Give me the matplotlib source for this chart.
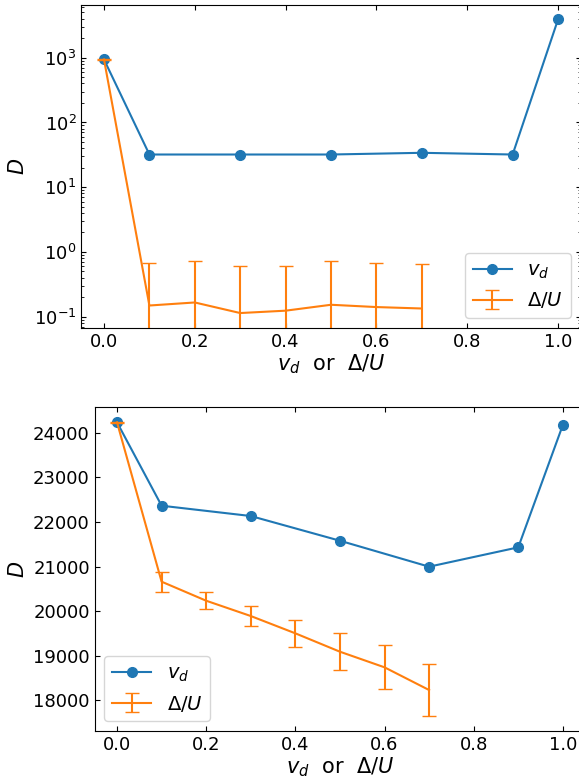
import numpy as np
import matplotlib
matplotlib.use("Agg")
import matplotlib.pyplot as plt

# x positions
x_vd = [0.0, 0.1, 0.3, 0.5, 0.7, 0.9, 1.0]
x_du = [0.0, 0.1, 0.2, 0.3, 0.4, 0.5, 0.6, 0.7]

# upper panel (log scale)
D_vd_top = [940, 32, 32, 32, 34, 32, 3900]
D_du_top = [940, 0.149, 0.166, 0.114, 0.124, 0.153, 0.141, 0.134]
err_du_top = [15, 0.53, 0.55, 0.49, 0.48, 0.56, 0.53, 0.51]

# lower panel (linear scale)
D_vd_bot = [24233, 22363, 22132, 21578, 20996, 21430, 24173]
D_du_bot = [24233, 20660, 20233, 19890, 19502, 19090, 18740, 18231]
err_du_bot = [10, 225, 190, 230, 310, 410, 490, 575]

fig = plt.figure(figsize=(5.79, 7.8), dpi=100)
ax1 = fig.add_axes([0.1404, 0.5795, 0.8626, 0.414])
ax2 = fig.add_axes([0.1636, 0.0628, 0.847, 0.4154])

for ax, yv, yd, ed in [(ax1, D_vd_top, D_du_top, err_du_top),
                       (ax2, D_vd_bot, D_du_bot, err_du_bot)]:
    ax.plot(x_vd, yv, '-o', color='C0', lw=1.5, ms=7, label=r'$v_d$')
    ax.errorbar(x_du, yd, yerr=ed, color='C1', lw=1.5, capsize=5,
                label=r'$\Delta/U$')
    ax.set_xlim(-0.05, 1.05)
    ax.set_xticks([0.0, 0.2, 0.4, 0.6, 0.8, 1.0])
    ax.set_xlabel(r'$v_d$  or  $\Delta/U$', fontsize=15, labelpad=1)
    ax.set_ylabel(r'$D$', fontsize=15)
    ax.tick_params(which='both', direction='in', top=True, right=True,
                   labelsize=13)

ax1.set_yscale('log')
ax1.set_ylim(0.067, 6500)
ax1.legend(loc='lower right', fontsize=14)

ax2.set_ylim(17312, 24576)
ax2.set_yticks([18000, 19000, 20000, 21000, 22000, 23000, 24000])
ax2.legend(loc='lower left', fontsize=14)

fig.savefig('out.png', dpi=100)
